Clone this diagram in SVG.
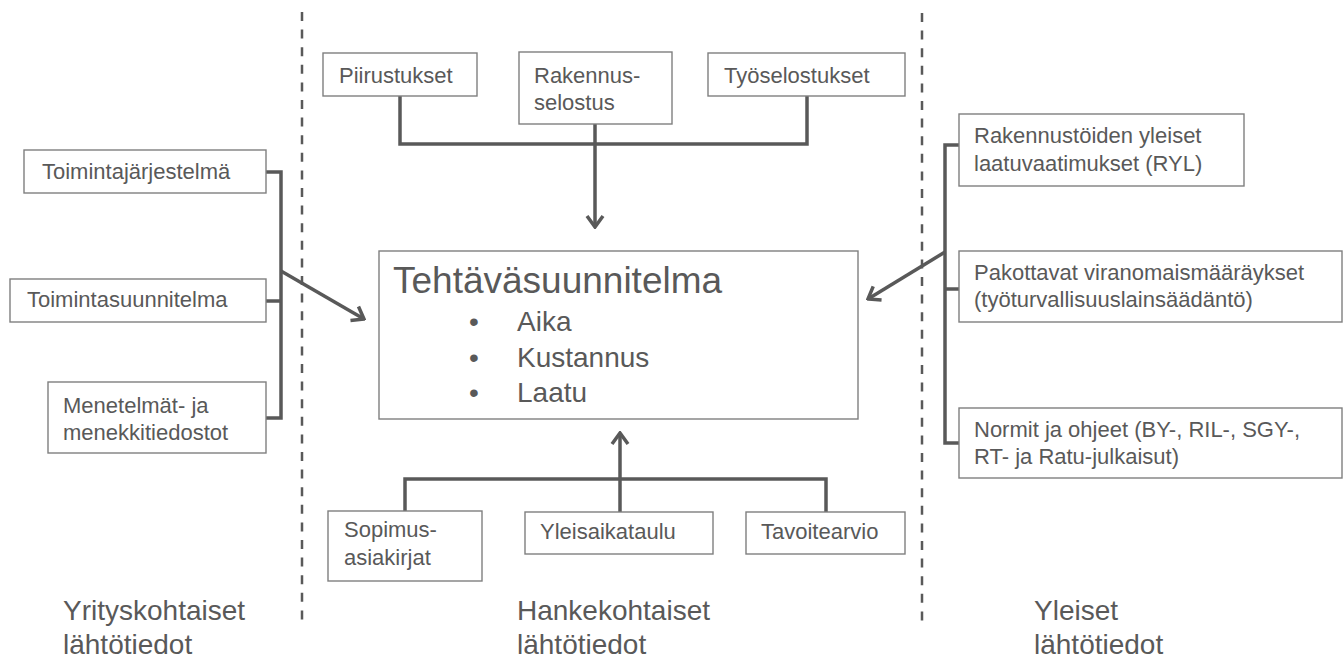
<svg xmlns="http://www.w3.org/2000/svg" width="1344" height="659" viewBox="0 0 1344 659">
  <style>
    .box { fill: #ffffff; stroke: #7f7f7f; stroke-width: 1.4; }
    .t { font-family: "Liberation Sans", Arial, sans-serif; font-size: 22px; fill: #595959; }
    .title { font-family: "Liberation Sans", Arial, sans-serif; font-size: 37px; fill: #595959; }
    .item { font-family: "Liberation Sans", Arial, sans-serif; font-size: 28px; fill: #595959; }
    .lbl { font-family: "Liberation Sans", Arial, sans-serif; font-size: 28px; fill: #595959; }
    .conn { fill: none; stroke: #595959; stroke-width: 3.5; stroke-linejoin: miter; }
    .sep { fill: none; stroke: #595959; stroke-width: 2.5; stroke-dasharray: 9 8.6; }
  </style>
  <defs>
    <marker id="arrow" viewBox="-14 -10 16 20" markerWidth="16" markerHeight="20" refX="0" refY="0" orient="auto" markerUnits="userSpaceOnUse">
      <path d="M-11,-8 L0,0 L-11,8" fill="none" stroke="#595959" stroke-width="3.5" stroke-linejoin="miter"/>
    </marker>
  </defs>
  <rect width="1344" height="659" fill="#ffffff"/>

  <!-- column separators -->
  <g id="separators">
    <line class="sep" x1="302" y1="12" x2="302" y2="620"/>
    <line class="sep" x1="922" y1="13" x2="922" y2="622"/>
  </g>

  <!-- connectors -->
  <g id="connectors">
    <!-- left bracket -->
    <path class="conn" d="M266,172 H281 V418 H266"/>
    <path class="conn" d="M266,301 H281"/>
    <line class="conn" x1="281" y1="271" x2="364" y2="319" marker-end="url(#arrow)"/>
    <!-- top fork -->
    <path class="conn" d="M400,96 V144 H807 V96"/>
    <line class="conn" x1="595" y1="124" x2="595" y2="227" marker-end="url(#arrow)"/>
    <!-- bottom fork -->
    <path class="conn" d="M405,511 V479 H826 V512"/>
    <line class="conn" x1="620" y1="512" x2="620" y2="433" marker-end="url(#arrow)"/>
    <!-- right bracket -->
    <path class="conn" d="M959,145 H945 V443 H959"/>
    <path class="conn" d="M945,289 H959"/>
    <line class="conn" x1="945" y1="252" x2="868" y2="299" marker-end="url(#arrow)"/>
  </g>

  <!-- central node -->
  <g id="tehtavasuunnitelma">
    <rect class="box" x="379" y="251" width="479" height="168"/>
    <text class="title" x="393" y="293">Tehtäväsuunnitelma</text>
    <text class="item" x="474" y="331" text-anchor="middle">•</text>
    <text class="item" x="517" y="331">Aika</text>
    <text class="item" x="474" y="367" text-anchor="middle">•</text>
    <text class="item" x="517" y="367">Kustannus</text>
    <text class="item" x="474" y="402" text-anchor="middle">•</text>
    <text class="item" x="517" y="402">Laatu</text>
  </g>

  <!-- company-specific inputs -->
  <g id="toimintajarjestelma">
    <rect class="box" x="24" y="150" width="242" height="43"/>
    <text class="t" x="42" y="179">Toimintajärjestelmä</text>
  </g>
  <g id="toimintasuunnitelma">
    <rect class="box" x="10" y="279" width="256" height="43"/>
    <text class="t" x="27" y="307">Toimintasuunnitelma</text>
  </g>
  <g id="menetelmat">
    <rect class="box" x="48" y="382" width="218" height="71"/>
    <text class="t" x="63" y="413">Menetelmät- ja</text>
    <text class="t" x="63" y="440">menekkitiedostot</text>
  </g>

  <!-- project-specific inputs -->
  <g id="piirustukset">
    <rect class="box" x="323" y="53" width="154" height="43"/>
    <text class="t" x="339" y="83">Piirustukset</text>
  </g>
  <g id="rakennusselostus">
    <rect class="box" x="519" y="52" width="153" height="72"/>
    <text class="t" x="534" y="83">Rakennus-</text>
    <text class="t" x="534" y="110">selostus</text>
  </g>
  <g id="tyoselostukset">
    <rect class="box" x="708" y="53" width="197" height="43"/>
    <text class="t" x="724" y="83">Työselostukset</text>
  </g>
  <g id="sopimusasiakirjat">
    <rect class="box" x="328" y="511" width="154" height="70"/>
    <text class="t" x="344" y="537">Sopimus-</text>
    <text class="t" x="344" y="565">asiakirjat</text>
  </g>
  <g id="yleisaikataulu">
    <rect class="box" x="525" y="512" width="188" height="42"/>
    <text class="t" x="540" y="539">Yleisaikataulu</text>
  </g>
  <g id="tavoitearvio">
    <rect class="box" x="746" y="512" width="159" height="42"/>
    <text class="t" x="761" y="539">Tavoitearvio</text>
  </g>

  <!-- general inputs -->
  <g id="ryl">
    <rect class="box" x="959" y="114" width="285" height="72"/>
    <text class="t" x="974" y="143">Rakennustöiden yleiset</text>
    <text class="t" x="974" y="171">laatuvaatimukset (RYL)</text>
  </g>
  <g id="viranomaismaaraykset">
    <rect class="box" x="959" y="251" width="383" height="71"/>
    <text class="t" x="974" y="280">Pakottavat viranomaismääräykset</text>
    <text class="t" x="974" y="307">(työturvallisuuslainsäädäntö)</text>
  </g>
  <g id="normit">
    <rect class="box" x="959" y="408" width="383" height="70"/>
    <text class="t" x="974" y="437">Normit ja ohjeet (BY-, RIL-, SGY-,</text>
    <text class="t" x="974" y="464">RT- ja Ratu-julkaisut)</text>
  </g>

  <!-- column captions -->
  <g id="captions">
    <text class="lbl" x="63" y="620">Yrityskohtaiset</text>
    <text class="lbl" x="63" y="654">lähtötiedot</text>
    <text class="lbl" x="517" y="620">Hankekohtaiset</text>
    <text class="lbl" x="517" y="654">lähtötiedot</text>
    <text class="lbl" x="1034" y="620">Yleiset</text>
    <text class="lbl" x="1034" y="654">lähtötiedot</text>
  </g>
</svg>
